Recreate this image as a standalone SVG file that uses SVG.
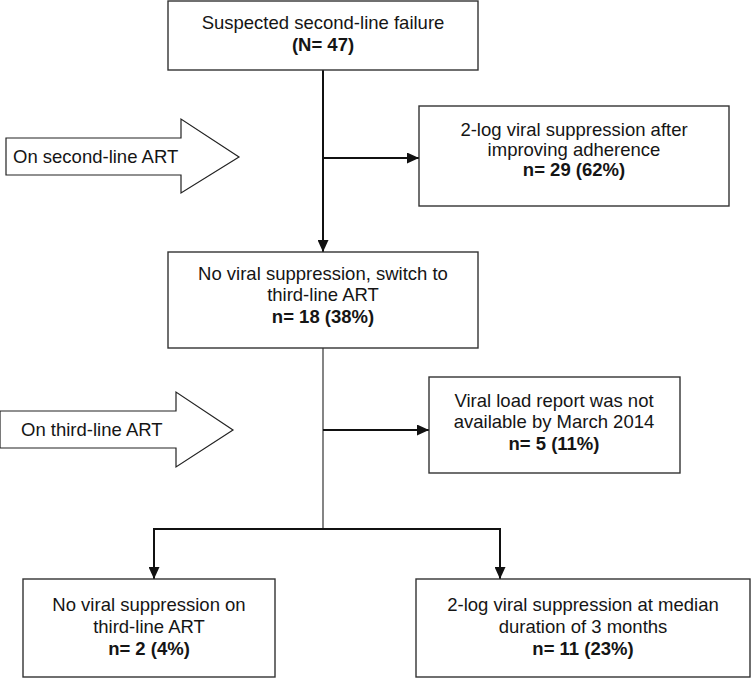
<svg xmlns="http://www.w3.org/2000/svg" width="756" height="680" viewBox="0 0 756 680">
<defs>
<marker id="ah" markerUnits="userSpaceOnUse" markerWidth="12" markerHeight="11" refX="12" refY="5.5" orient="auto">
<path d="M0,0 L12,5.5 L0,11 z" fill="#111"/>
</marker>
<style>
.box{fill:#fff;stroke:#333;stroke-width:1.4}
.blk{fill:#fff;stroke:#222;stroke-width:1.2}
text{font-family:"Liberation Sans",Arial,sans-serif;font-size:18.5px;fill:#151515}
.c{text-anchor:middle}
.b{font-weight:bold}
.thick{stroke:#111;stroke-width:2;fill:none}
.thin{stroke:#333;stroke-width:1.2;fill:none}
</style>
</defs>
<rect width="756" height="680" fill="#fff"/>
<g id="connectors">
<line class="thick" x1="323" y1="70" x2="323" y2="252" marker-end="url(#ah)"/>
<line class="thick" x1="323" y1="158" x2="419" y2="158" marker-end="url(#ah)"/>
<line class="thin" x1="323" y1="348" x2="323" y2="529"/>
<line class="thick" x1="323" y1="430" x2="429" y2="430" marker-end="url(#ah)"/>
<polyline class="thick" points="154,529 500,529 500,579" marker-end="url(#ah)"/>
<line class="thick" x1="154" y1="528" x2="154" y2="579" marker-end="url(#ah)"/>
</g>
<g id="arrow-second">
<polygon class="blk" points="6,138 181,138 181,119 239,157 181,193 181,175 6,175"/>
<text x="13" y="163">On second-line ART</text>
</g>
<g id="arrow-third">
<polygon class="blk" points="0,411 176,411 176,392 233,430 176,467 176,448 0,448"/>
<text x="21" y="436">On third-line ART</text>
</g>
<g id="n1">
<rect class="box" x="168" y="1" width="310" height="69"/>
<text class="c" x="323" y="29">Suspected second-line failure</text>
<text class="c b" x="323" y="51">(N= 47)</text>
</g>
<g id="n2">
<rect class="box" x="419" y="106" width="310" height="100"/>
<text class="c" x="574" y="136">2-log viral suppression after</text>
<text class="c" x="574" y="156">improving adherence</text>
<text class="c b" x="574" y="176">n= 29 (62%)</text>
</g>
<g id="n3">
<rect class="box" x="168" y="252" width="310" height="96"/>
<text class="c" x="323" y="280">No viral suppression, switch to</text>
<text class="c" x="323" y="301">third-line ART</text>
<text class="c b" x="323" y="323">n= 18 (38%)</text>
</g>
<g id="n4">
<rect class="box" x="429" y="377" width="251" height="96"/>
<text class="c" x="554" y="407">Viral load report was not</text>
<text class="c" x="554" y="428">available by March 2014</text>
<text class="c b" x="554" y="450">n= 5 (11%)</text>
</g>
<g id="n5">
<rect class="box" x="23" y="579" width="252" height="98"/>
<text class="c" x="149" y="611">No viral suppression on</text>
<text class="c" x="149" y="633">third-line ART</text>
<text class="c b" x="149" y="655">n= 2 (4%)</text>
</g>
<g id="n6">
<rect class="box" x="416" y="579" width="334" height="98"/>
<text class="c" x="583" y="611">2-log viral suppression at median</text>
<text class="c" x="583" y="633">duration of 3 months</text>
<text class="c b" x="583" y="655">n= 11 (23%)</text>
</g>
</svg>
